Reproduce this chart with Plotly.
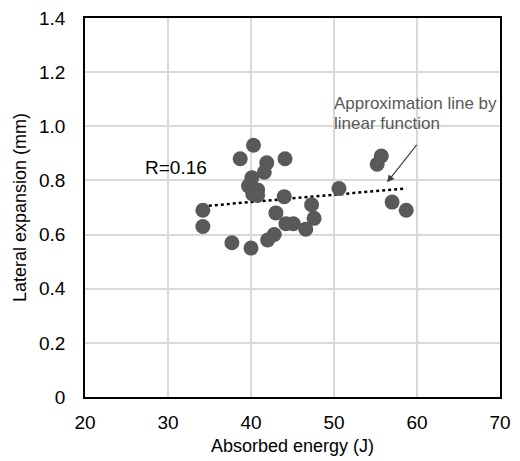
import numpy as np
import plotly.graph_objects as go

energy = [40.3, 38.7, 41.9, 44.1, 41.6, 40.1, 39.7, 40.8, 40.2, 40.8,
          50.6, 44.0, 34.2, 34.2, 47.3, 43.0, 47.6, 44.2, 45.1, 46.6,
          42.8, 42.0, 37.7, 40.0, 55.7, 55.2, 57.0, 58.7]
expansion = [0.93, 0.88, 0.865, 0.88, 0.83, 0.81, 0.78, 0.765, 0.75, 0.745,
             0.77, 0.74, 0.69, 0.63, 0.71, 0.68, 0.66, 0.64, 0.64, 0.62,
             0.60, 0.58, 0.57, 0.55, 0.89, 0.86, 0.72, 0.69]

x_ticks = [20, 30, 40, 50, 60, 70]
y_ticks = [0, 0.2, 0.4, 0.6, 0.8, 1.0, 1.2, 1.4]
y_labels = ["0", "0.2", "0.4", "0.6", "0.8", "1.0", "1.2", "1.4"]

slope, intercept = np.polyfit(energy, expansion, 1)
xfit = np.array([min(energy), max(energy)])
yfit = slope * xfit + intercept

FONT = "Arial, Liberation Sans"

fig = go.Figure()
fig.add_trace(go.Scatter(x=xfit, y=yfit, mode="lines",
                         line=dict(color="black", width=2.5, dash="dot"),
                         hoverinfo="skip"))
fig.add_trace(go.Scatter(x=energy, y=expansion, mode="markers",
                         marker=dict(color="#595959", size=15)))

fig.add_annotation(x=27.0, y=0.849, text="R=0.16", showarrow=False,
                   xanchor="left", yanchor="middle",
                   font=dict(family=FONT, size=19, color="black"))
fig.add_annotation(x=49.8, y=1.085, text="Approximation line by",
                   showarrow=False, xanchor="left", yanchor="middle", align="left",
                   font=dict(family=FONT, size=17, color="#595959"))
fig.add_annotation(x=49.8, y=1.011, text="linear function",
                   showarrow=False, xanchor="left", yanchor="middle", align="left",
                   font=dict(family=FONT, size=17, color="#595959"))
fig.add_annotation(x=56.4, y=0.793, ax=60.1, ay=0.937, axref="x", ayref="y",
                   text="", showarrow=True, arrowhead=2, arrowsize=1.2,
                   arrowwidth=1.2, arrowcolor="#404040")

fig.update_layout(
    width=520, height=461,
    margin=dict(l=85, r=20, t=18, b=64, autoexpand=False),
    paper_bgcolor="white", plot_bgcolor="white",
    showlegend=False,
    font=dict(family=FONT, size=19, color="black"),
    xaxis=dict(range=[20, 70], tickvals=x_ticks, showgrid=True,
               gridcolor="#d9d9d9", gridwidth=1.5, zeroline=False,
               showline=True, linecolor="black", linewidth=1.5, mirror=True,
               ticks="", ticklabelstandoff=7, automargin=False,
               title=dict(text="Absorbed energy (J)", standoff=8,
                          font=dict(size=18))),
    yaxis=dict(range=[0, 1.4], tickvals=y_ticks, ticktext=y_labels, showgrid=True,
               gridcolor="#d9d9d9", gridwidth=1.5, zeroline=False,
               showline=True, linecolor="black", linewidth=1.5, mirror=True,
               ticks="", ticklabelstandoff=14, automargin=False,
               title=dict(text="Lateral expansion (mm)", standoff=8,
                          font=dict(size=18))),
)
fig.write_html("out.html", config={"displayModeBar": False},
               post_script="document.body.style.margin='0';document.body.style.overflow='hidden';")
